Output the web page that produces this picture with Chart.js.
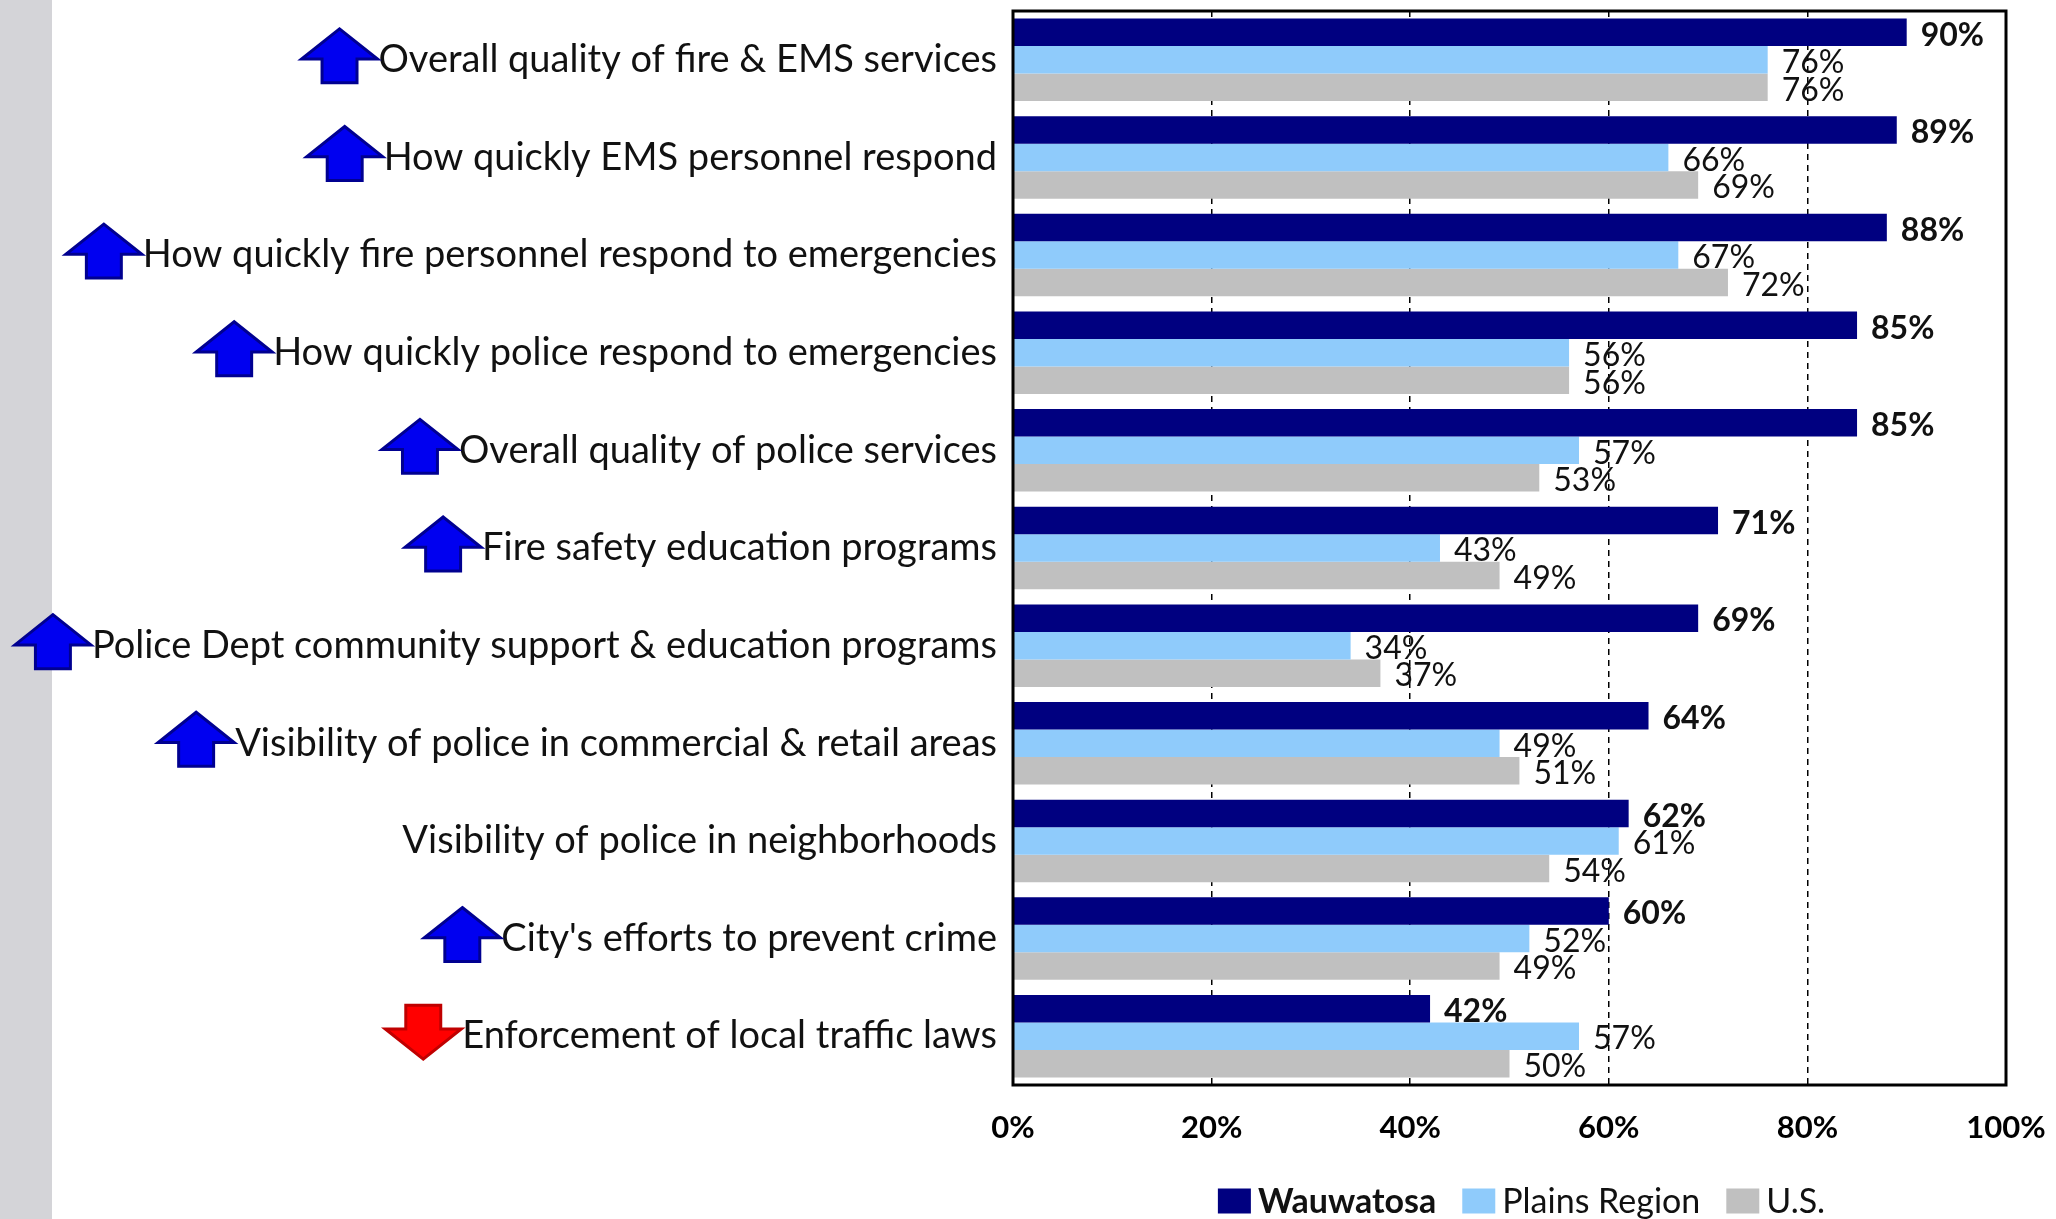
<!DOCTYPE html>
<html>
<head>
<meta charset="utf-8">
<script src="https://cdn.jsdelivr.net/npm/chart.js@4.4.1/dist/chart.umd.min.js"></script>
<style>
    html, body { margin: 0; padding: 0; }
    body {
        width: 2056px;
        height: 1219px;
        overflow: hidden;
        background: linear-gradient(to right, #d4d4d8 0, #d4d4d8 52px, #ffffff 52px);
    }
</style>
</head>
<body>
<canvas id="grafico" width="2056" height="1219"></canvas>
<script>
// Categorías (de arriba hacia abajo)
const categorias = [
    "Overall quality of fire & EMS services",
    "How quickly EMS personnel respond",
    "How quickly fire personnel respond to emergencies",
    "How quickly police respond to emergencies",
    "Overall quality of police services",
    "Fire safety education programs",
    "Police Dept community support & education programs",
    "Visibility of police in commercial & retail areas",
    "Visibility of police in neighborhoods",
    "City's efforts to prevent crime",
    "Enforcement of local traffic laws"
];

// Porcentajes por serie
const wauwatosa    = [90, 89, 88, 85, 85, 71, 69, 64, 62, 60, 42];
const plainsRegion = [76, 66, 67, 56, 57, 43, 34, 49, 61, 52, 57];
const us           = [76, 69, 72, 56, 53, 49, 37, 51, 54, 49, 50];

// Tendencia de cada categoría: flecha arriba, abajo o nada
const tendencias = ["up", "up", "up", "up", "up", "up", "up", "up", null, "up", "down"];

// Marcas del eje X
const marcasX = [0, 20, 40, 60, 80, 100];

const FUENTE = 'Lato, "DejaVu Sans Condensed", sans-serif';
const TAM_CATEGORIA = 38;
const PAD_CATEGORIA = 8;

// Marco negro alrededor del área del gráfico
const pluginMarco = {
    id: "marco",
    afterDraw(chart) {
        const a = chart.chartArea;
        const ctx = chart.ctx;
        ctx.save();
        ctx.strokeStyle = "#000";
        ctx.lineWidth = 3;
        ctx.strokeRect(a.left, a.top, a.right - a.left, a.bottom - a.top);
        ctx.restore();
    }
};

// Porcentaje al final de cada barra
const pluginEtiquetas = {
    id: "etiquetas",
    afterDatasetsDraw(chart) {
        const ctx = chart.ctx;
        ctx.save();
        ctx.textBaseline = "middle";
        ctx.textAlign = "left";
        ctx.fillStyle = "#111";
        chart.data.datasets.forEach(function (ds, i) {
            const meta = chart.getDatasetMeta(i);
            ctx.font = (i === 0 ? "bold " : "") + "32px " + FUENTE;
            meta.data.forEach(function (barra, j) {
                ctx.fillText(ds.data[j] + "%", barra.x + 14, barra.y + 3);
            });
        });
        ctx.restore();
    }
};

// Flechas de tendencia a la izquierda del texto de cada categoría
function dibujarFlecha(ctx, derecha, centroY, dir, relleno, borde) {
    const w = 76, h = 54;
    const cabeza = h * 0.56, tronco = w * 0.46;
    const cx = derecha - w / 2;
    const top = centroY - h / 2, bottom = centroY + h / 2;
    ctx.beginPath();
    if (dir === "up") {
        ctx.moveTo(cx, top);
        ctx.lineTo(cx + w / 2, top + cabeza);
        ctx.lineTo(cx + tronco / 2, top + cabeza);
        ctx.lineTo(cx + tronco / 2, bottom);
        ctx.lineTo(cx - tronco / 2, bottom);
        ctx.lineTo(cx - tronco / 2, top + cabeza);
        ctx.lineTo(cx - w / 2, top + cabeza);
    } else {
        ctx.moveTo(cx, bottom);
        ctx.lineTo(cx + w / 2, bottom - cabeza);
        ctx.lineTo(cx + tronco / 2, bottom - cabeza);
        ctx.lineTo(cx + tronco / 2, top);
        ctx.lineTo(cx - tronco / 2, top);
        ctx.lineTo(cx - tronco / 2, bottom - cabeza);
        ctx.lineTo(cx - w / 2, bottom - cabeza);
    }
    ctx.closePath();
    ctx.fillStyle = relleno;
    ctx.fill();
    ctx.lineWidth = 3;
    ctx.strokeStyle = borde;
    ctx.stroke();
}

const pluginFlechas = {
    id: "flechas",
    afterDraw(chart) {
        const ctx = chart.ctx;
        const ejeY = chart.scales.y;
        ctx.save();
        ctx.font = TAM_CATEGORIA + "px " + FUENTE;
        tendencias.forEach(function (t, i) {
            if (!t) return;
            const ancho = ctx.measureText(categorias[i]).width;
            const inicioTexto = ejeY.right - PAD_CATEGORIA - ancho;
            const y = ejeY.getPixelForValue(i) - 4;
            if (t === "up") {
                dibujarFlecha(ctx, inicioTexto - 9, y, "up", "#0000f0", "#000090");
            } else {
                dibujarFlecha(ctx, inicioTexto - 9, y, "down", "#ff0000", "#c00000");
            }
        });
        ctx.restore();
    }
};

// Leyenda propia (Wauwatosa en negrita)
const pluginLeyenda = {
    id: "leyendaPropia",
    afterDraw(chart) {
        const ctx = chart.ctx;
        const a = chart.chartArea;
        const y = 1201;
        const caja = 33, altoCaja = 25, sep = 7, entre = 26;
        ctx.save();
        const items = chart.data.datasets.map(function (ds, i) {
            ctx.font = (i === 0 ? "bold " : "") + "34px " + FUENTE;
            return { texto: ds.label, color: ds.backgroundColor, font: ctx.font, ancho: ctx.measureText(ds.label).width };
        });
        let total = 0;
        items.forEach(function (it, i) {
            total += caja + sep + it.ancho + (i < items.length - 1 ? entre : 0);
        });
        let x = (a.left + a.right) / 2 - total / 2 + 12;
        ctx.textBaseline = "middle";
        ctx.textAlign = "left";
        items.forEach(function (it) {
            ctx.fillStyle = it.color;
            ctx.fillRect(x, y - altoCaja / 2, caja, altoCaja);
            x += caja + sep;
            ctx.font = it.font;
            ctx.fillStyle = "#111";
            ctx.fillText(it.texto, x, y + 1);
            x += it.ancho + entre;
        });
        ctx.restore();
    }
};

const ctx = document.getElementById("grafico").getContext("2d");

new Chart(ctx, {
    type: "bar",
    data: {
        labels: categorias,
        datasets: [
            { label: "Wauwatosa", data: wauwatosa, backgroundColor: "#000080" },
            { label: "Plains Region", data: plainsRegion, backgroundColor: "#8fcbfb" },
            { label: "U.S.", data: us, backgroundColor: "#c0c0c0" }
        ]
    },
    options: {
        indexAxis: "y",
        responsive: false,
        animation: false,
        devicePixelRatio: 1,
        layout: { padding: { top: 11, right: 50, left: 0, bottom: 0 } },
        datasets: {
            bar: { categoryPercentage: 0.845, barPercentage: 1.0, borderWidth: 0 }
        },
        plugins: {
            legend: { display: false },
            tooltip: { enabled: false }
        },
        scales: {
            x: {
                min: 0,
                max: 100,
                afterBuildTicks: function (eje) {
                    eje.ticks = marcasX.map(function (v) { return { value: v }; });
                },
                afterFit: function (eje) {
                    eje.height = 134;
                    eje.paddingLeft = 0;
                    eje.paddingRight = 0;
                },
                ticks: {
                    callback: function (v) { return v + "%"; },
                    font: { family: FUENTE, size: 31, weight: "bold" },
                    color: "#000",
                    padding: 24,
                    maxRotation: 0
                },
                grid: { color: "#000", lineWidth: 1.5, drawTicks: false },
                border: { display: false, dash: [6, 5] }
            },
            y: {
                afterFit: function (eje) {
                    eje.width = 1013;
                    eje.paddingTop = 0;
                    eje.paddingBottom = 0;
                },
                ticks: {
                    font: { family: FUENTE, size: TAM_CATEGORIA },
                    color: "#111",
                    padding: PAD_CATEGORIA,
                    autoSkip: false
                },
                grid: { display: false },
                border: { display: false }
            }
        }
    },
    plugins: [pluginEtiquetas, pluginMarco, pluginFlechas, pluginLeyenda]
});
</script>
</body>
</html>
